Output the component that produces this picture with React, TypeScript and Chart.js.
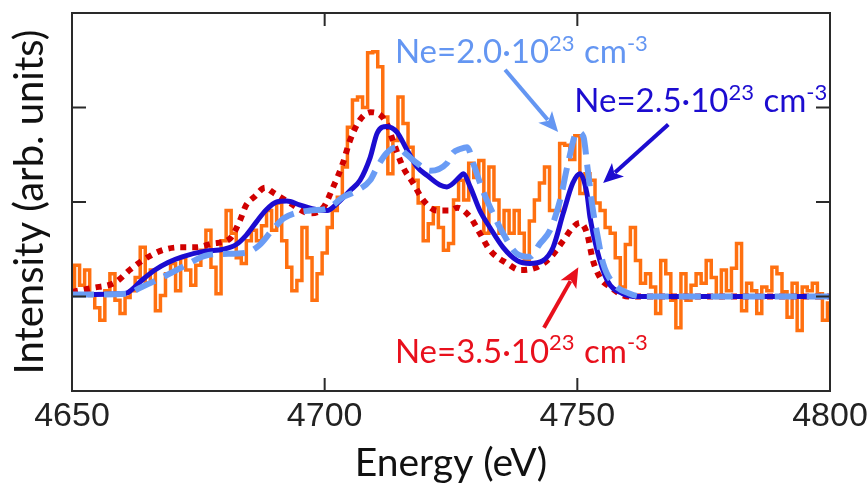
import React, { useEffect, useRef } from 'react';
import { Chart, registerables } from 'chart.js';

Chart.register(...registerables);

// ---------- axes ----------
const ENERGY_MIN = 4650;
const ENERGY_MAX = 4800;
const X_TICKS = [4650, 4700, 4750, 4800];
const Y_MIN = -1;
const Y_MAX = 3;
const Y_TICKS = [0, 1, 2];

// ---------- measured spectrum (1 eV bins starting at 4650 eV) ----------
const EXP_START = 4650;
const expIntensity = [
  0.10, 0.33, 0.12, 0.28, 0.01, -0.12, -0.25, 0.06, 0.24, -0.04,
  -0.18, -0.01, 0.06, 0.20, 0.52, 0.14, 0.28, -0.15, 0.01, 0.24,
  0.35, 0.06, 0.41, 0.28, 0.12, 0.33, 0.49, 0.70, 0.31, 0.03,
  0.59, 0.91, 0.67, 0.41, 0.35, 0.59, 0.70, 0.59, 0.75, 0.91,
  0.70, 0.99, 0.59, 0.31, 0.06, 0.17, 0.73, 0.41, -0.04, 0.24,
  0.46, 0.73, 0.91, 1.05, 1.37, 1.79, 2.08, 2.11, 2.00, 2.58,
  2.59, 2.43, 1.90, 1.30, 1.65, 2.11, 1.83, 1.58, 1.23, 0.99,
  0.59, 0.77, 0.94, 0.73, 0.49, 0.56, 1.02, 1.23, 1.02, 1.41,
  1.26, 1.44, 0.67, 1.37, 1.02, 0.67, 0.91, 0.67, 0.91, 0.67,
  0.38, 0.80, 1.02, 1.20, 1.37, 0.91, 0.91, 1.62, 1.60, 1.45,
  1.70, 1.09, 1.30, 1.23, 0.99, 0.91, 0.73, 0.67, 0.41, 0.10,
  0.55, 0.73, 0.38, 0.14, 0.24, 0.10, -0.18, 0.38, 0.24, -0.04,
  -0.33, 0.24, -0.04, 0.12, 0.24, 0.14, 0.38, 0.20, -0.01, 0.28,
  0.06, 0.30, 0.56, -0.15, 0.14, 0.06, -0.18, 0.10, 0.06, 0.31,
  0.24, 0.05, -0.22, 0.14, -0.36, 0.10, 0.06, 0.14, 0.03, -0.25,
  -0.07,
];

// ---------- simulated spectra ----------
const ne20Energy = [
  4650, 4661, 4663.4, 4667.4, 4671.8, 4676.3, 4679.7, 4684.2, 4687, 4689.6,
  4692, 4697.1, 4700.5, 4703.6, 4706.4, 4709, 4710.4, 4712.3, 4714.3, 4716.3,
  4718.3, 4720.9, 4724.2, 4725.4, 4726.8, 4728.2, 4729.4, 4731.3, 4733.3, 4735.3,
  4738.1, 4740.6, 4742.6, 4744.6, 4746.6, 4748, 4750, 4751.2, 4752, 4753.1,
  4753.9, 4755.1, 4757.1, 4760.4, 4763, 4800,
];
const ne20Intensity = [
  0.02, 0.03, 0.09, 0.19, 0.31, 0.43, 0.45, 0.46, 0.54, 0.70,
  0.83, 0.91, 0.93, 1.05, 1.12, 1.23, 1.37, 1.52, 1.58, 1.50,
  1.41, 1.33, 1.41, 1.52, 1.56, 1.58, 1.41, 1.12, 0.88, 0.67,
  0.45, 0.42, 0.56, 0.70, 1.02, 1.37, 1.74, 1.69, 1.37, 0.91,
  0.67, 0.35, 0.14, 0.03, 0.0, 0.0,
];

const ne25Energy = [
  4650, 4660, 4661, 4664, 4666.4, 4669, 4671.8, 4676.3, 4680, 4682.5,
  4684.5, 4686.5, 4688.5, 4690.5, 4692.5, 4695, 4697.5, 4700.5, 4702.4, 4705,
  4707, 4709, 4710.4, 4712.3, 4714.3, 4716.3, 4718.3, 4720.3, 4722.8, 4724.2,
  4726.8, 4727.4, 4728.8, 4730.7, 4732.7, 4735.3, 4738.1, 4740.6, 4743.2, 4745.2,
  4747.2, 4749.1, 4750.5, 4751.9, 4752.5, 4753.9, 4755.9, 4759, 4762, 4800,
];
const ne25Intensity = [
  0.02, 0.03, 0.04, 0.18, 0.28, 0.36, 0.42, 0.48, 0.50, 0.55,
  0.65, 0.79, 0.92, 1.00, 1.01, 0.97, 0.93, 0.91, 0.98, 1.12,
  1.23, 1.47, 1.73, 1.80, 1.74, 1.55, 1.37, 1.28, 1.18, 1.16,
  1.27, 1.30, 1.16, 0.91, 0.73, 0.52, 0.38, 0.35, 0.38, 0.52,
  0.88, 1.20, 1.30, 1.09, 0.84, 0.49, 0.17, 0.03, 0.0, 0.0,
];

const ne35Energy = [
  4650, 4654, 4658.6, 4661.4, 4663.9, 4667.9, 4671.3, 4674.5, 4677.8, 4681.2,
  4683.2, 4684.4, 4686.2, 4688.2, 4689.8, 4693.1, 4697.1, 4699.7, 4701.7, 4703.6,
  4705, 4707, 4709, 4710.4, 4712.3, 4713.5, 4715.5, 4717.5, 4719.5, 4722.2,
  4724.8, 4726.2, 4728.8, 4730.7, 4732.7, 4736.1, 4738.7, 4742, 4744.6, 4747.2,
  4749.1, 4750.5, 4751.9, 4753.1, 4754.5, 4756.5, 4760, 4800,
];
const ne35Intensity = [
  0.05, 0.09, 0.15, 0.28, 0.38, 0.49, 0.52, 0.52, 0.56, 0.61,
  0.80, 0.96, 1.06, 1.15, 1.10, 0.99, 0.88, 0.94, 1.16, 1.41,
  1.65, 1.87, 1.95, 1.94, 1.83, 1.65, 1.37, 1.20, 1.02, 0.91,
  0.91, 0.94, 0.84, 0.67, 0.49, 0.35, 0.28, 0.31, 0.41, 0.59,
  0.73, 0.78, 0.67, 0.38, 0.20, 0.10, 0.0, 0.0,
];

// ---------- annotations ----------
const LABELS = [
  { value: '2.0', color: '#6496f2', at: [4713.9, 2.47], arrow: [[4735.7, 2.40], [4746.2, 1.74]] },
  { value: '2.5', color: '#1c0cd0', at: [4749.4, 1.95], arrow: [[4768.0, 1.82], [4755.1, 1.20]] },
  { value: '3.5', color: '#e8101c', at: [4713.9, -0.70], arrow: [[4743.4, -0.33], [4750.2, 0.31]] },
];

const COLORS = {
  exp: '#ff7010',
  ne20: '#6a9cf5',
  ne25: '#1c0cd0',
  ne35: '#d00000',
  frame: '#2a2a2a',
};

const TEXT_FONT = "Lato, 'Open Sans', sans-serif";
const TICK_FONT = "'Liberation Sans', Arial, sans-serif";

function pairs(xs: number[], ys: number[]) {
  return xs.map((x, i) => ({ x, y: ys[i] }));
}

function drawLabel(ctx: CanvasRenderingContext2D, x: number, y: number, value: string, color: string) {
  const size = 33;
  const sup = 22;
  const parts: { t: string; s: boolean }[] = [
    { t: `Ne=${value}\u00b710`, s: false },
    { t: '23', s: true },
    { t: ' cm', s: false },
    { t: '-3', s: true },
  ];
  ctx.fillStyle = color;
  ctx.textBaseline = 'alphabetic';
  ctx.textAlign = 'left';
  let cx = x;
  for (const p of parts) {
    ctx.font = `${p.s ? sup : size}px ${TEXT_FONT}`;
    ctx.fillText(p.t, cx, p.s ? y - size * 0.38 : y);
    cx += ctx.measureText(p.t).width + (p.s ? 1 : 0);
  }
}

function drawArrow(ctx: CanvasRenderingContext2D, x1: number, y1: number, x2: number, y2: number, color: string) {
  const ang = Math.atan2(y2 - y1, x2 - x1);
  const headLen = 20;
  const headW = 9;
  const bx = x2 - headLen * Math.cos(ang);
  const by = y2 - headLen * Math.sin(ang);
  ctx.strokeStyle = color;
  ctx.fillStyle = color;
  ctx.lineWidth = 4;
  ctx.lineCap = 'butt';
  ctx.beginPath();
  ctx.moveTo(x1, y1);
  ctx.lineTo(bx + 4 * Math.cos(ang), by + 4 * Math.sin(ang));
  ctx.stroke();
  ctx.beginPath();
  ctx.moveTo(x2, y2);
  ctx.lineTo(bx + headW * Math.sin(ang), by - headW * Math.cos(ang));
  ctx.lineTo(bx + 5 * Math.cos(ang), by + 5 * Math.sin(ang));
  ctx.lineTo(bx - headW * Math.sin(ang), by + headW * Math.cos(ang));
  ctx.closePath();
  ctx.fill();
}

const framePlugin = {
  id: 'frameAndNotes',
  afterDatasetsDraw(chart: any) {
    const { ctx, chartArea: a, scales } = chart;
    const xs = scales.x;
    const ys = scales.y;
    ctx.save();
    ctx.strokeStyle = COLORS.frame;
    ctx.lineWidth = 2;
    ctx.strokeRect(a.left, a.top, a.right - a.left, a.bottom - a.top);
    ctx.beginPath();
    for (const v of X_TICKS) {
      const px = xs.getPixelForValue(v);
      ctx.moveTo(px, a.bottom);
      ctx.lineTo(px, a.bottom - 13);
      ctx.moveTo(px, a.top);
      ctx.lineTo(px, a.top + 13);
    }
    for (const v of Y_TICKS) {
      const py = ys.getPixelForValue(v);
      ctx.moveTo(a.left, py);
      ctx.lineTo(a.left + 14, py);
      ctx.moveTo(a.right, py);
      ctx.lineTo(a.right - 14, py);
    }
    ctx.stroke();

    for (const l of LABELS) {
      drawLabel(ctx, xs.getPixelForValue(l.at[0]), ys.getPixelForValue(l.at[1]), l.value, l.color);
      const [s, e] = l.arrow;
      drawArrow(
        ctx,
        xs.getPixelForValue(s[0]), ys.getPixelForValue(s[1]),
        xs.getPixelForValue(e[0]), ys.getPixelForValue(e[1]),
        l.color,
      );
    }
    ctx.restore();
  },
};

export default function App() {
  const ref = useRef<HTMLCanvasElement | null>(null);

  useEffect(() => {
    if (!ref.current) return;
    const expData = expIntensity.map((y, i) => ({ x: EXP_START + i, y }));
    const chart = new Chart(ref.current, {
      type: 'line',
      data: {
        datasets: [
          {
            label: 'Ne=2.0',
            data: pairs(ne20Energy, ne20Intensity),
            borderColor: COLORS.ne20,
            borderWidth: 6,
            borderDash: [22, 10],
            borderCapStyle: 'butt',
            pointRadius: 0,
            cubicInterpolationMode: 'monotone',
            order: 0,
          },
          {
            label: 'Ne=2.5',
            data: pairs(ne25Energy, ne25Intensity),
            borderColor: COLORS.ne25,
            borderWidth: 5,
            pointRadius: 0,
            cubicInterpolationMode: 'monotone',
            order: 1,
          },
          {
            label: 'Ne=3.5',
            data: pairs(ne35Energy, ne35Intensity),
            borderColor: COLORS.ne35,
            borderWidth: 6,
            borderDash: [6, 6],
            borderCapStyle: 'butt',
            pointRadius: 0,
            cubicInterpolationMode: 'monotone',
            order: 2,
          },
          {
            label: 'Experiment',
            data: expData,
            borderColor: COLORS.exp,
            borderWidth: 3.5,
            pointRadius: 0,
            stepped: 'middle',
            order: 3,
          },
        ],
      },
      options: {
        animation: false,
        responsive: true,
        maintainAspectRatio: false,
        layout: { padding: { top: 13, right: 37, left: 0, bottom: 0 } },
        plugins: { legend: { display: false }, tooltip: { enabled: false } },
        scales: {
          x: {
            type: 'linear',
            min: ENERGY_MIN,
            max: ENERGY_MAX,
            afterBuildTicks: (s: any) => { s.ticks = X_TICKS.map((v) => ({ value: v })); },
            afterFit: (s: any) => { s.height = 107; s.paddingLeft = 0; s.paddingRight = 0; },
            grid: { display: false, drawTicks: false },
            border: { display: false },
            ticks: {
              padding: 5,
              color: '#222',
              font: { family: TICK_FONT, size: 34 },
              maxRotation: 0,
              callback: (v: any) => String(v),
            },
            title: {
              display: true,
              text: 'Energy (eV)',
              color: '#111',
              font: { family: TEXT_FONT, size: 39 },
              padding: { top: 0, bottom: 11 },
            },
          },
          y: {
            type: 'linear',
            min: Y_MIN,
            max: Y_MAX,
            afterFit: (s: any) => { s.width = 72; s.paddingTop = 0; s.paddingBottom = 0; },
            grid: { display: false, drawTicks: false },
            border: { display: false },
            ticks: { display: false },
            title: {
              display: true,
              text: 'Intensity (arb. units)',
              color: '#111',
              font: { family: TEXT_FONT, size: 40 },
              padding: { top: 6, bottom: 0 },
            },
          },
        },
      },
      plugins: [framePlugin],
    } as any);
    return () => chart.destroy();
  }, []);

  return (
    <div style={{ position: 'fixed', left: 0, top: 0, width: 867, height: 498, background: '#fff' }}>
      <canvas ref={ref} />
    </div>
  );
}
